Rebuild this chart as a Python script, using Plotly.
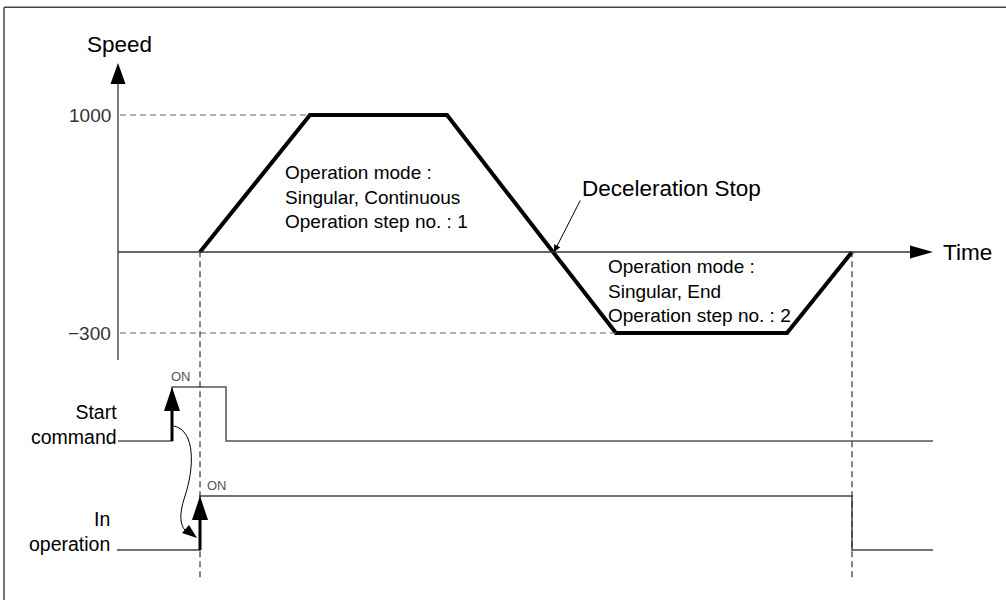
import plotly.graph_objects as go

FONT = "Liberation Sans, Arial, sans-serif"

# ── data (time in diagram units, speed in pulses/s) ─────────────────
axis_t = 118
time_end_t = 933
accel_t = [200, 310, 447, 553]
accel_speed = [0, 1000, 1000, 0]
decel_t = [553, 616, 787, 852]
decel_speed = [0, -300, -300, 0]
speed_ticks = [1000, -300]
speed_tick_text = ["1000", "\u2212300"]

start_cmd_t = [118, 172, 226, 933]
start_cmd_lvl = [0, 1, 0, 0]
in_op_t = [117, 200, 852, 933]
in_op_lvl = [0, 1, 0, 0]

block1 = ["Operation mode :", "Singular, Continuous", "Operation step no. : 1"]
block2 = ["Operation mode :", "Singular, End", "Operation step no. : 2"]

fig = go.Figure()

# speed profile (split at the zero crossing onto the +/- scales)
fig.add_trace(go.Scatter(x=accel_t, y=accel_speed, mode="lines", yaxis="y",
                         line=dict(color="black", width=4)))
fig.add_trace(go.Scatter(x=decel_t, y=decel_speed, mode="lines", yaxis="y2",
                         line=dict(color="black", width=4)))

# signals
fig.add_trace(go.Scatter(x=start_cmd_t, y=start_cmd_lvl, mode="lines", yaxis="y3",
                         line=dict(color="#555", width=1.5, shape="hv")))
fig.add_trace(go.Scatter(x=in_op_t, y=in_op_lvl, mode="lines", yaxis="y4",
                         line=dict(color="#444", width=1.5, shape="hv")))

shapes = []
# frame (left + top)
shapes.append(dict(type="line", xref="paper", yref="paper", x0=0.004, x1=0.004,
                   y0=0, y1=0.988, line=dict(color="#444", width=1.5)))
shapes.append(dict(type="line", xref="paper", yref="paper", x0=0.004, x1=1,
                   y0=0.988, y1=0.988, line=dict(color="#444", width=1.5)))

# speed axis with arrow
shapes.append(dict(type="line", xref="x", yref="paper", x0=axis_t, x1=axis_t,
                   y0=0.4, y1=0.865, line=dict(color="#333", width=1.3)))
shapes.append(dict(type="path", xref="x", yref="paper", xsizemode="pixel", ysizemode="pixel",
                   xanchor=axis_t, yanchor=0.895, path="M0,0 L-7.5,-21 L7.5,-21 Z",
                   fillcolor="black", line=dict(width=0)))
# time axis with arrow
shapes.append(dict(type="line", xref="x", yref="y", x0=axis_t, x1=time_end_t - 20,
                   y0=0, y1=0, line=dict(color="#333", width=1.3)))
shapes.append(dict(type="path", xref="x", yref="y", xsizemode="pixel", ysizemode="pixel",
                   xanchor=time_end_t, yanchor=0, path="M0,0 L-23,6.5 L-23,-6.5 Z",
                   fillcolor="black", line=dict(width=0)))

# reference dashed lines for 1000 and -300
shapes.append(dict(type="line", xref="x", yref="y", x0=axis_t + 2, x1=accel_t[1],
                   y0=accel_speed[1], y1=accel_speed[1],
                   line=dict(color="#666", width=1.2, dash="6px,4px")))
shapes.append(dict(type="line", xref="x", yref="y2", x0=axis_t + 2, x1=decel_t[1],
                   y0=decel_speed[1], y1=decel_speed[1],
                   line=dict(color="#666", width=1.2, dash="6px,4px")))

# vertical dashed markers at start / end of operation
for t in (accel_t[0], decel_t[-1]):
    shapes.append(dict(type="line", xref="x", yref="paper", x0=t, x1=t,
                       y0=0.038, y1=0.58, line=dict(color="#333", width=1.2, dash="6px,4px")))

# thick rising-edge arrows
for t, yr in ((start_cmd_t[1], "y3"), (in_op_t[1], "y4")):
    shapes.append(dict(type="line", xref="x", yref=yr, x0=t, x1=t, y0=0, y1=0.6,
                       line=dict(color="black", width=3)))
    shapes.append(dict(type="path", xref="x", yref=yr, xsizemode="pixel", ysizemode="pixel",
                       xanchor=t, yanchor=1, path="M0,0 L-8,-24 L8,-24 Z",
                       fillcolor="black", line=dict(width=0)))

# curved causality arrow (start command -> in operation), paper-anchored so it is not clipped
shapes.append(dict(type="path", xref="x", yref="paper", xsizemode="pixel", ysizemode="pixel",
                   xanchor=start_cmd_t[1], yanchor=0.265,
                   path="M2,15 C24,10 22,-28 13,-55 C6,-76 8,-88 18,-93",
                   line=dict(color="black", width=1)))
shapes.append(dict(type="path", xref="x", yref="paper", xsizemode="pixel", ysizemode="pixel",
                   xanchor=start_cmd_t[1], yanchor=0.265,
                   path="M25,-97 L17,-84 L10,-92 Z",
                   fillcolor="black", line=dict(width=0)))

ann = []
ann.append(dict(x=axis_t + 1, y=0.925, xref="x", yref="paper", text="Speed",
                font=dict(size=22.5, color="black")))
ann.append(dict(x=time_end_t + 8, y=0, xref="x", yref="y", text="Time", xanchor="left",
                font=dict(size=22.5, color="black")))
for v, txt, yr in zip(speed_ticks, speed_tick_text, ("y", "y2")):
    ann.append(dict(x=axis_t - 5, y=v, xref="x", yref=yr, text=txt, xanchor="right",
                    font=dict(size=19, color="#333")))
ann.append(dict(x=283, y=0.671, xref="x", yref="paper", text="<br>".join(block1),
                xanchor="left", align="left", font=dict(size=19, color="black")))
ann.append(dict(x=606, y=0.515, xref="x", yref="paper", text="<br>".join(block2),
                xanchor="left", align="left", font=dict(size=19, color="black")))
ann.append(dict(x=580, y=0.685, xref="x", yref="paper", text="Deceleration Stop",
                xanchor="left", font=dict(size=22.5, color="black")))
ann.append(dict(x=119, y=0.2925, xref="x", yref="paper", text="Start<br>command",
                xanchor="right", align="right", font=dict(size=19.5, color="black")))
ann.append(dict(x=112, y=0.114, xref="x", yref="paper", text="In<br>operation",
                xanchor="right", align="right", font=dict(size=19.5, color="black")))
ann.append(dict(x=181, y=1.2, xref="x", yref="y3", text="ON",
                font=dict(size=13, color="#555")))
ann.append(dict(x=217, y=1.2, xref="x", yref="y4", text="ON",
                font=dict(size=13, color="#555")))
for a in ann:
    a.update(showarrow=False, yanchor="middle")

# deceleration-stop pointer
ann.append(dict(x=accel_t[3] + 1, y=0, xref="x", yref="y", text="", showarrow=True,
                ax=27, ay=-53, arrowhead=2, arrowsize=1.4, arrowwidth=1, arrowcolor="black"))

hidden = dict(visible=False, fixedrange=True)
fig.update_layout(
    width=1006, height=600,
    margin=dict(l=0, r=0, t=0, b=0),
    paper_bgcolor="white", plot_bgcolor="rgba(0,0,0,0)",
    showlegend=False,
    font=dict(family=FONT),
    xaxis=dict(range=[0, 1006], domain=[0, 1], **hidden),
    yaxis=dict(range=[-350.4, 1839.4], domain=[0.5, 1], anchor="x", **hidden),
    yaxis2=dict(range=[-1288.9, 155.6], domain=[0, 0.65], anchor="x", **hidden),
    yaxis3=dict(range=[-0.722, 1.722], domain=[0.2, 0.42], anchor="x", **hidden),
    yaxis4=dict(range=[-0.926, 1.296], domain=[0, 0.2], anchor="x", **hidden),
    shapes=shapes,
    annotations=ann,
)

fig.write_html("out.html", config={"displayModeBar": False},
               post_script="document.body.style.margin='0px';")
